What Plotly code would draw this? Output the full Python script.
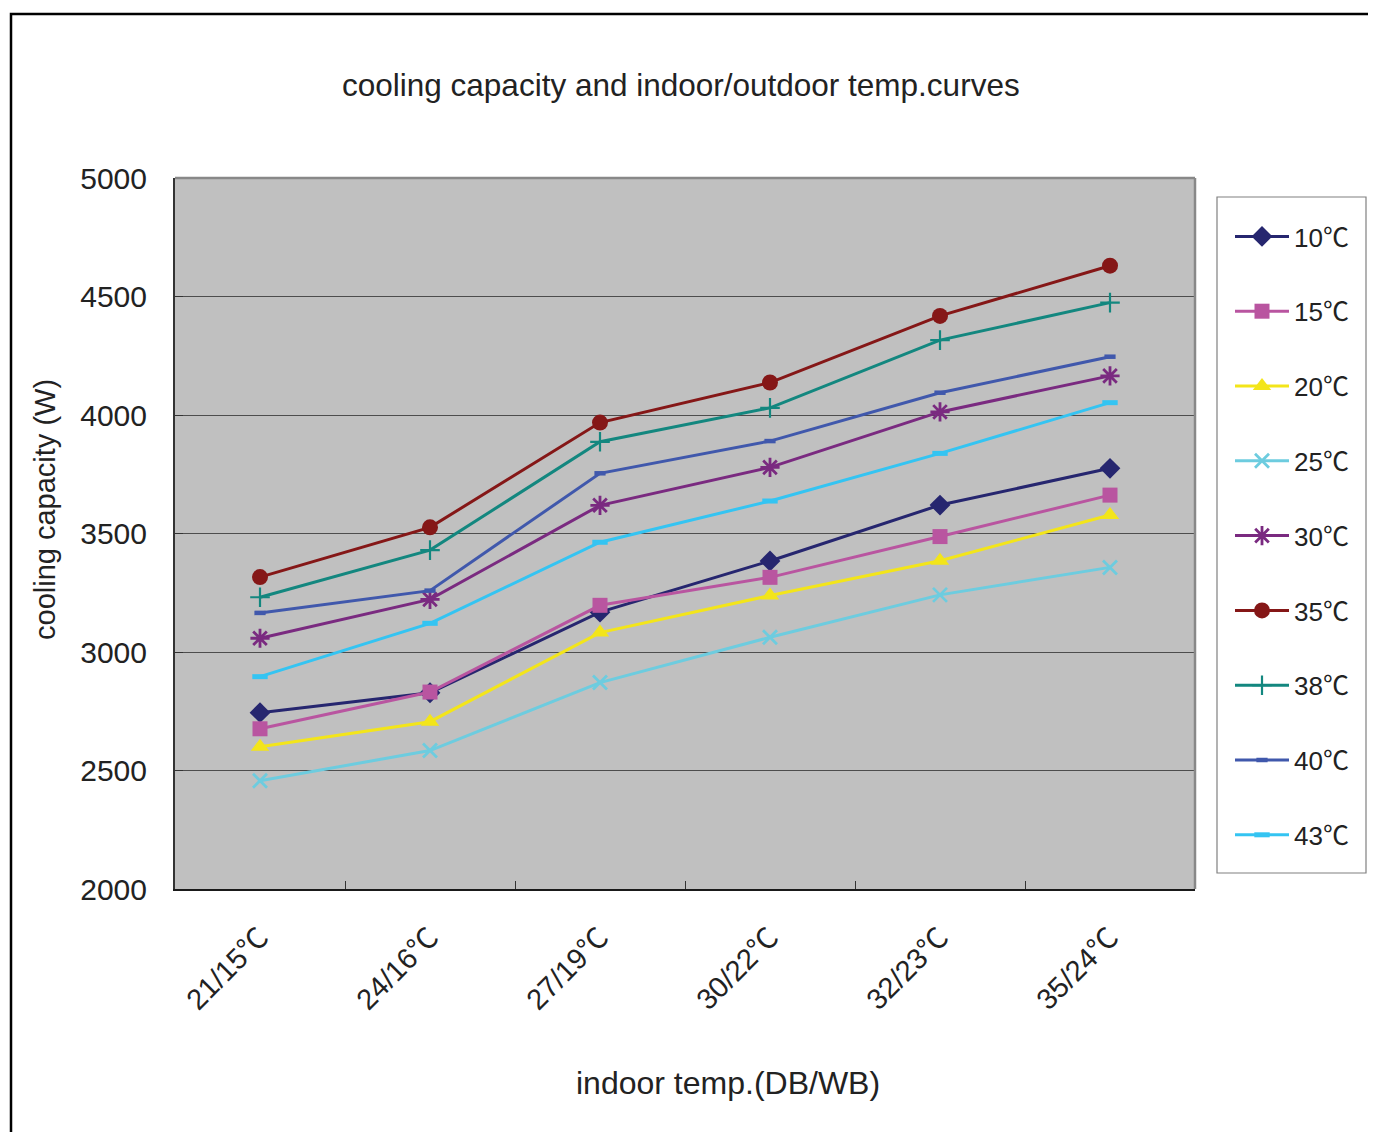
import plotly.graph_objects as go

categories = ["21/15℃", "24/16℃", "27/19℃", "30/22℃", "32/23℃", "35/24℃"]

s10 = [2744, 2828, 3168, 3384, 3620, 3775]
s15 = [2676, 2831, 3197, 3315, 3487, 3662]
s20 = [2600, 2706, 3082, 3238, 3385, 3578]
s25 = [2457, 2584, 2871, 3062, 3241, 3357]
s30 = [3058, 3222, 3619, 3779, 4013, 4165]
s35 = [3316, 3526, 3968, 4137, 4418, 4630]
s38 = [3231, 3430, 3887, 4030, 4316, 4474]
s40 = [3165, 3259, 3754, 3890, 4094, 4246]
s43 = [2896, 3121, 3463, 3637, 3838, 4052]

series_names = ["10℃", "15℃", "20℃", "25℃", "30℃", "35℃", "38℃", "40℃", "43℃"]
series_values = [s10, s15, s20, s25, s30, s35, s38, s40, s43]
colors = ["#26266F", "#B955A0", "#F3E51A", "#6DCCDF", "#7A2A80",
          "#851717", "#13877F", "#4058AC", "#34C4F2"]
symbols = ["diamond", "square", "triangle-up", "x-thin", "asterisk",
           "circle", "cross-thin", "line-ew", "line-ew"]
sizes = [16, 15, 16, 14, 16, 16, 14, 8, 11]
mlw = [0, 0, 0, 2.8, 2.8, 0, 2.2, 4.5, 5]

FONT = "Liberation Sans, Arial, sans-serif"


def deg(s):
    return s.replace(
        "℃", "<span style=\"font-family:'Noto Sans CJK SC'\">℃</span>")


fig = go.Figure()
for i, (name, vals) in enumerate(zip(series_names, series_values)):
    fig.add_trace(go.Scatter(
        x=categories, y=vals, name=deg(name), mode="lines+markers",
        legendgroup=name,
        line=dict(color=colors[i], width=3),
        marker=dict(symbol=symbols[i], size=sizes[i], color=colors[i],
                    line=dict(color=colors[i], width=mlw[i])),
    ))

# The page body has an 8px margin, so the figure is laid out 8px smaller
OFF = 8
W, H = 1376 - 2 * OFF, 1140 - 2 * OFF
# plot area in reference (page) pixel coordinates
L, R, T, B = 175, 1195, 178, 889
pw, ph = R - L, B - T


def px(x):
    return (x - L) / pw


def py(y):
    return (B - y) / ph


fig.update_layout(
    width=W, height=H,
    margin=dict(l=L - OFF, r=W - (R - OFF), t=T - OFF, b=H - (B - OFF),
                autoexpand=False),
    paper_bgcolor="white", plot_bgcolor="#C0C0C0",
    font=dict(family=FONT, color="#222222", size=29),
    showlegend=True,
    legend=dict(
        x=px(1230), y=py(213), xanchor="left", yanchor="top",
        xref="paper", yref="paper",
        borderwidth=0, bgcolor="rgba(0,0,0,0)",
        font=dict(size=26, family=FONT, color="#222222"),
        traceorder="grouped", tracegroupgap=38, itemwidth=54,
    ),
    xaxis=dict(
        type="category", showgrid=False, showline=True, linecolor="#1a1a1a",
        linewidth=2, ticks="inside", ticklen=8, tickcolor="#333333",
        tickson="boundaries", tickangle=-45, zeroline=False,
        tickmode="array", tickvals=categories,
        ticktext=[deg(c) for c in categories],
        tickfont=dict(size=29, family=FONT, color="#222222"),
        ticklabelstandoff=18, range=[-0.5, 5.5],
    ),
    yaxis=dict(
        range=[2000, 5000], dtick=500, showgrid=True, gridcolor="#4d4d4d",
        gridwidth=1, showline=True, linecolor="#333333", linewidth=2,
        ticks="inside", ticklen=8, tickcolor="#333333", zeroline=False,
        tickfont=dict(size=30, family=FONT, color="#222222"),
        ticklabelstandoff=20,
    ),
    shapes=[
        dict(type="line", xref="paper", yref="paper", x0=0, x1=1, y0=1, y1=1,
             line=dict(color="#888888", width=2.5)),
        dict(type="line", xref="paper", yref="paper", x0=1, x1=1, y0=0, y1=1,
             line=dict(color="#888888", width=2.5)),
        dict(type="rect", xref="paper", yref="paper",
             x0=px(1217), x1=px(1366), y0=py(873), y1=py(197),
             line=dict(color="#808080", width=1.2), fillcolor="white",
             layer="below"),
        dict(type="rect", xref="paper", yref="paper",
             x0=px(11), x1=px(1400), y0=py(1160), y1=py(14),
             line=dict(color="black", width=2.5), layer="above"),
    ],
    annotations=[
        dict(text="cooling capacity and indoor/outdoor temp.curves",
             xref="paper", yref="paper", x=px(681), y=py(85),
             xanchor="center", yanchor="middle", showarrow=False,
             font=dict(size=31.5, family=FONT, color="#222222")),
        dict(text="cooling capacity (W)", xref="paper", yref="paper",
             x=px(45), y=py(510), xanchor="center", yanchor="middle",
             textangle=-90, showarrow=False,
             font=dict(size=29, family=FONT, color="#222222")),
        dict(text="indoor temp.(DB/WB)", xref="paper", yref="paper",
             x=px(728), y=py(1083), xanchor="center", yanchor="middle",
             showarrow=False,
             font=dict(size=32, family=FONT, color="#222222")),
    ],
)

fig.write_html("out.html")
